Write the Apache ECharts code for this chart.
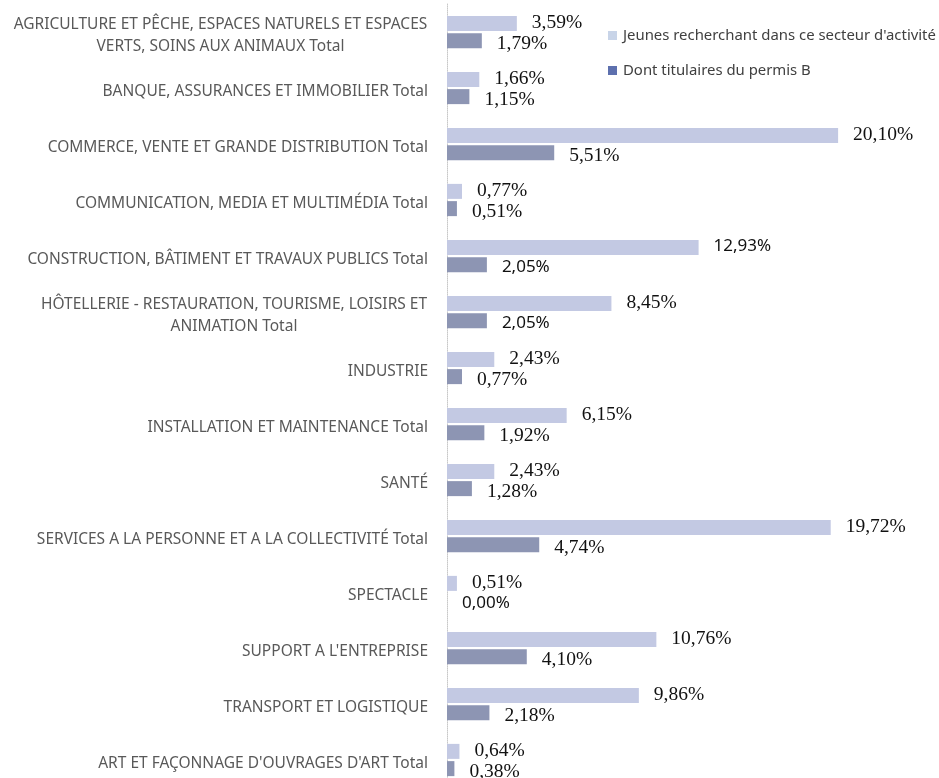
<!DOCTYPE html>
<html>
<head>
<meta charset="utf-8">
<script src="https://cdn.jsdelivr.net/npm/echarts@6/dist/echarts.min.js"></script>
<style>html,body{margin:0;padding:0;background:#fff;}#c{width:939px;height:778px;}</style>
</head>
<body>
<div id="c"></div>
<script>
const categories = [
  "AGRICULTURE ET PÊCHE, ESPACES NATURELS ET ESPACES\nVERTS, SOINS AUX ANIMAUX Total",
  "BANQUE, ASSURANCES ET IMMOBILIER Total",
  "COMMERCE, VENTE ET GRANDE DISTRIBUTION Total",
  "COMMUNICATION, MEDIA ET MULTIMÉDIA Total",
  "CONSTRUCTION, BÂTIMENT ET TRAVAUX PUBLICS Total",
  "HÔTELLERIE - RESTAURATION, TOURISME, LOISIRS ET\nANIMATION Total",
  "INDUSTRIE",
  "INSTALLATION ET MAINTENANCE Total",
  "SANTÉ",
  "SERVICES A LA PERSONNE ET A LA COLLECTIVITÉ Total",
  "SPECTACLE",
  "SUPPORT A L'ENTREPRISE",
  "TRANSPORT ET LOGISTIQUE",
  "ART ET FAÇONNAGE D'OUVRAGES D'ART Total"
];
const seriesNames = ["Jeunes recherchant dans ce secteur d'activité", "Dont titulaires du permis B"];
const jeunes = [3.59, 1.66, 20.10, 0.77, 12.93, 8.45, 2.43, 6.15, 2.43, 19.72, 0.51, 10.76, 9.86, 0.64];
const permisB = [1.79, 1.15, 5.51, 0.51, 2.05, 2.05, 0.77, 1.92, 1.28, 4.74, 0.00, 4.10, 2.18, 0.38];

// label font overrides (style only)
const sansJeunes = new Set([4]);
const sansPermis = new Set([4, 5, 10]);

function fmt(v) { return v.toFixed(2).replace('.', ',') + '%'; }
function mkData(arr, sansSet) {
  return arr.map((v, i) => sansSet.has(i)
    ? { value: v, label: { fontFamily: 'Noto Sans', fontSize: 17 } }
    : v);
}

// Multi-line category labels: lines centred under the (widest) first line
const labelFont = '15.5px "Noto Sans"';
const ctx = document.createElement('canvas').getContext('2d');
ctx.font = labelFont;
const rich = {};
categories.forEach((c, i) => {
  if (c.indexOf('\n') >= 0) {
    const w = Math.max.apply(null, c.split('\n').map(s => ctx.measureText(s).width));
    rich['r' + i] = { width: Math.ceil(w) + 1, align: 'center', color: '#595959', fontFamily: 'Noto Sans', fontSize: 15.5, lineHeight: 22 };
  }
});

const chart = echarts.init(document.getElementById('c'), null, { renderer: 'canvas' });
chart.setOption({
  backgroundColor: '#ffffff',
  animation: false,
  legend: {
    orient: 'vertical',
    left: 603,
    top: 23,
    itemWidth: 9,
    itemHeight: 9,
    itemGap: 20,
    icon: 'rect',
    textStyle: { fontFamily: 'Noto Sans', fontSize: 14.9, color: '#404040', padding: [0, 0, 0, 1] },
    data: [
      { name: seriesNames[0], itemStyle: { color: '#c8d4e8' } },
      { name: seriesNames[1], itemStyle: { color: '#5d70ae' } }
    ]
  },
  grid: { left: 447, top: 4, height: 784, right: 25, containLabel: false, outerBoundsMode: 'none' },
  xAxis: { type: 'value', min: 0, max: 24, show: false },
  yAxis: {
    type: 'category',
    inverse: true,
    data: categories,
    axisTick: { show: false },
    axisLine: { show: true, lineStyle: { color: '#c8c8c8', type: 'dotted', width: 1 } },
    axisLabel: {
      margin: 19,
      color: '#595959',
      fontFamily: 'Noto Sans',
      fontSize: 15.5,
      lineHeight: 22,
      padding: [8, 0, 0, 0],
      formatter: function (v, idx) {
        if (v.indexOf('\n') < 0) return v;
        return v.split('\n').map(s => '{r' + idx + '|' + s + '}').join('\n');
      },
      rich: rich
    }
  },
  series: [
    {
      name: seriesNames[0],
      type: 'bar',
      data: mkData(jeunes, sansJeunes),
      barWidth: 15,
      barGap: '15%',
      itemStyle: { color: '#c3c9e3' },
      label: {
        show: true, position: 'right', distance: 15, offset: [0, -1],
        formatter: p => fmt(p.value),
        fontFamily: 'Liberation Serif', fontSize: 19.5, color: '#111'
      }
    },
    {
      name: seriesNames[1],
      type: 'bar',
      data: mkData(permisB, sansPermis),
      barWidth: 15,
      itemStyle: { color: '#8d95b3' },
      label: {
        show: true, position: 'right', distance: 15, offset: [0, 3],
        formatter: p => fmt(p.value),
        fontFamily: 'Liberation Serif', fontSize: 19.5, color: '#111'
      }
    }
  ]
});
</script>
</body>
</html>
